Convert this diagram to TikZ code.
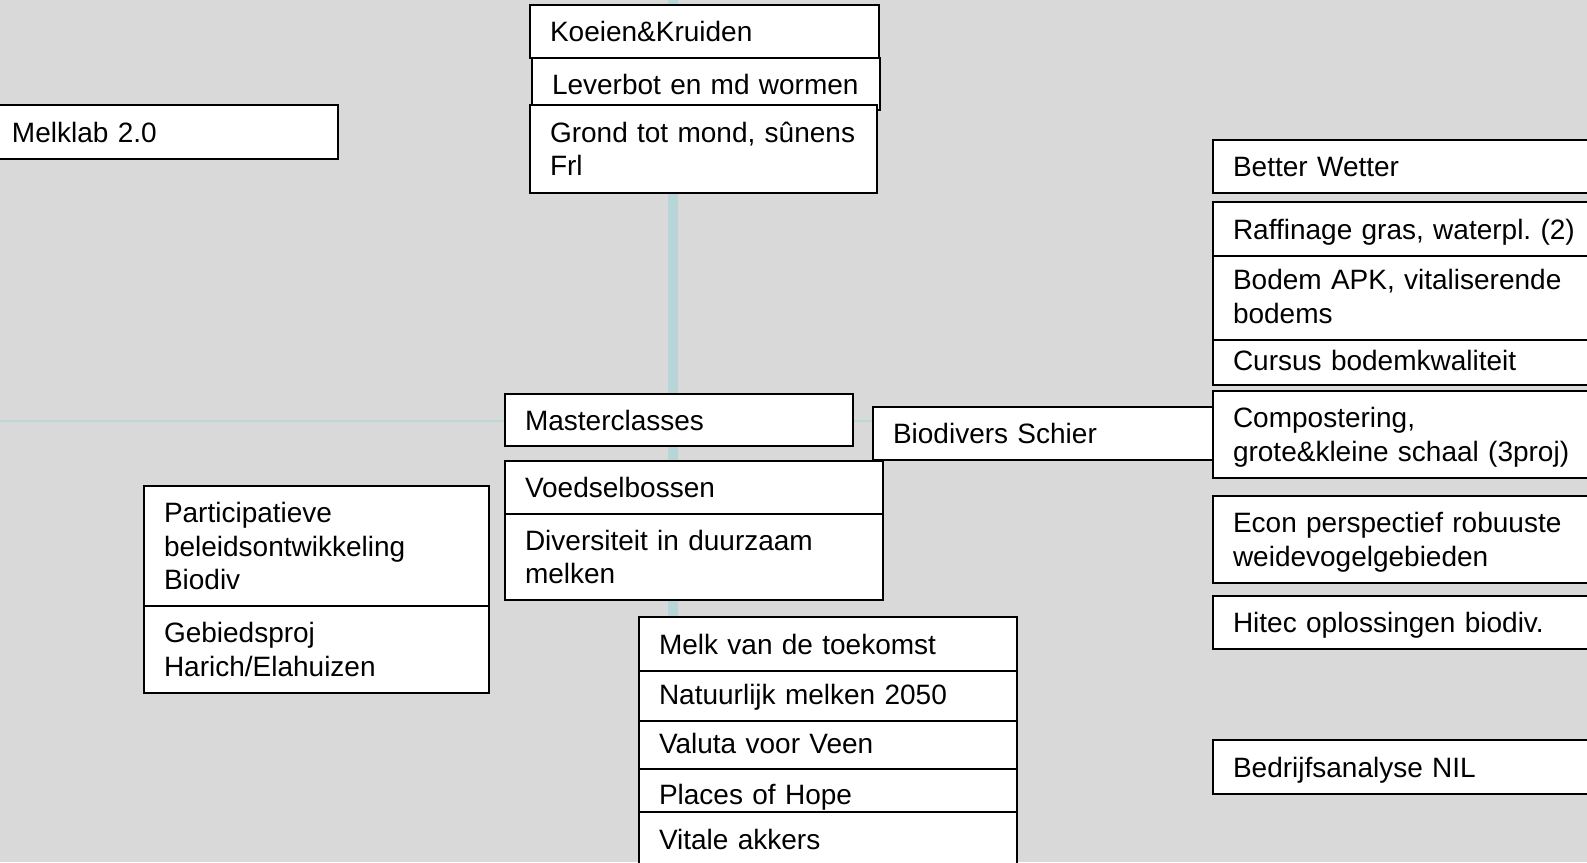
\documentclass[tikz,border=0pt]{standalone}
\usepackage{fontspec}
\setmainfont{Liberation Sans}
\definecolor{bg}{RGB}{217,217,217}
\definecolor{vbar}{RGB}{184,214,216}
\definecolor{hln}{RGB}{186,214,214}
\newcommand\bxl[1]{\smash{#1}\rule{0pt}{20pt}}
\tikzset{
  bx/.style n args={3}{draw=black, line width=1.5pt, fill=white, anchor=north west,
    inner xsep=20pt, inner ysep=0pt, outer sep=0pt, align=left,
    minimum width=#1, text width=#2, minimum height=#3,
    font=\fontsize{28}{33.6}\selectfont\frenchspacing},
  vconn/.style={draw=vbar, line width=10pt},
  hconn/.style={draw=hln, line width=2.5pt}
}
\begin{document}
\frenchspacing
\begin{tikzpicture}[x=1pt,y=-1pt]
\useasboundingbox (0,0) rectangle (1587,862);
\fill[bg] (0,0) rectangle (1587,862);
\clip (0,0) rectangle (1587,862);
\coordinate (vtop) at (673,0);
\coordinate (vbot) at (673,617);
\coordinate (hstart) at (0,421);
\coordinate (hend) at (873,421);
% connector lines, drawn behind the boxes
\draw[vconn] (vtop) -- (vbot);
\draw[hconn] (hstart) -- (hend);
% top stack
\node[bx={346pt}{306pt}{54pt}] (melklab) at (-8,105) {\bxl{Melklab 2.0}};
\node[bx={349pt}{309pt}{53pt}] (koeien) at (530,5) {\bxl{Koeien\&Kruiden}};
\node[bx={348pt}{308pt}{52pt}] (leverbot) at (532,58) {\bxl{Leverbot en md wormen}};
\node[bx={347pt}{307pt}{88pt}] (grond) at (530,105) {\bxl{Grond tot mond, sûnens}\\\bxl{Frl}};
% right column
\node[bx={400pt}{360pt}{53pt}] (better) at (1213,140) {\bxl{Better Wetter}};
\node[bx={400pt}{360pt}{54pt}] (raff) at (1213,202) {\bxl{Raffinage gras, waterpl. (2)}};
\node[bx={400pt}{360pt}{84pt}] (bodem) at (1213,256) {\bxl{\raisebox{1.5pt}{Bodem APK, vitaliserende}}\\\bxl{\raisebox{1.5pt}{bodems}}};
\node[bx={400pt}{360pt}{45pt}] (cursus) at (1213,340) {\bxl{\raisebox{2pt}{Cursus bodemkwaliteit}}};
\node[bx={400pt}{360pt}{87pt}] (compost) at (1213,391) {\bxl{Compostering,}\\\bxl{grote\&kleine schaal (3proj)}};
\node[bx={400pt}{360pt}{87pt}] (econ) at (1213,496) {\bxl{Econ perspectief robuuste}\\\bxl{weidevogelgebieden}};
\node[bx={400pt}{360pt}{53pt}] (hitec) at (1213,596) {\bxl{Hitec oplossingen biodiv.}};
\node[bx={400pt}{360pt}{54pt}] (bedrijf) at (1213,740) {\bxl{Bedrijfsanalyse NIL}};
% middle
\node[bx={348pt}{308pt}{52pt}] (master) at (505,394) {\bxl{Masterclasses}};
\node[bx={340pt}{300pt}{53pt}] (biodivers) at (873,407) {\bxl{Biodivers Schier}};
\node[bx={378pt}{338pt}{53pt}] (voedsel) at (505,461) {\bxl{Voedselbossen}};
\node[bx={378pt}{338pt}{86pt}] (divers) at (505,514) {\bxl{Diversiteit in duurzaam}\\\bxl{melken}};
% left
\node[bx={345pt}{305pt}{120pt}] (partic) at (144,486) {\bxl{Participatieve}\\\bxl{beleidsontwikkeling}\\\bxl{Biodiv}};
\node[bx={345pt}{305pt}{87pt}] (gebied) at (144,606) {\bxl{Gebiedsproj}\\\bxl{Harich/Elahuizen}};
% bottom stack
\node[bx={378pt}{338pt}{54pt}] (melk) at (639,617) {\bxl{Melk van de toekomst}};
\node[bx={378pt}{338pt}{50pt}] (natuur) at (639,671) {\bxl{\raisebox{2pt}{Natuurlijk melken 2050}}};
\node[bx={378pt}{338pt}{48pt}] (valuta) at (639,721) {\bxl{\raisebox{2pt}{Valuta voor Veen}}};
\node[bx={378pt}{338pt}{43pt}] (places) at (639,769) {\bxl{\raisebox{-4pt}{Places of Hope}}};
\node[bx={378pt}{338pt}{54pt}] (vitale) at (639,812) {\bxl{Vitale akkers}};
\end{tikzpicture}
\end{document}
